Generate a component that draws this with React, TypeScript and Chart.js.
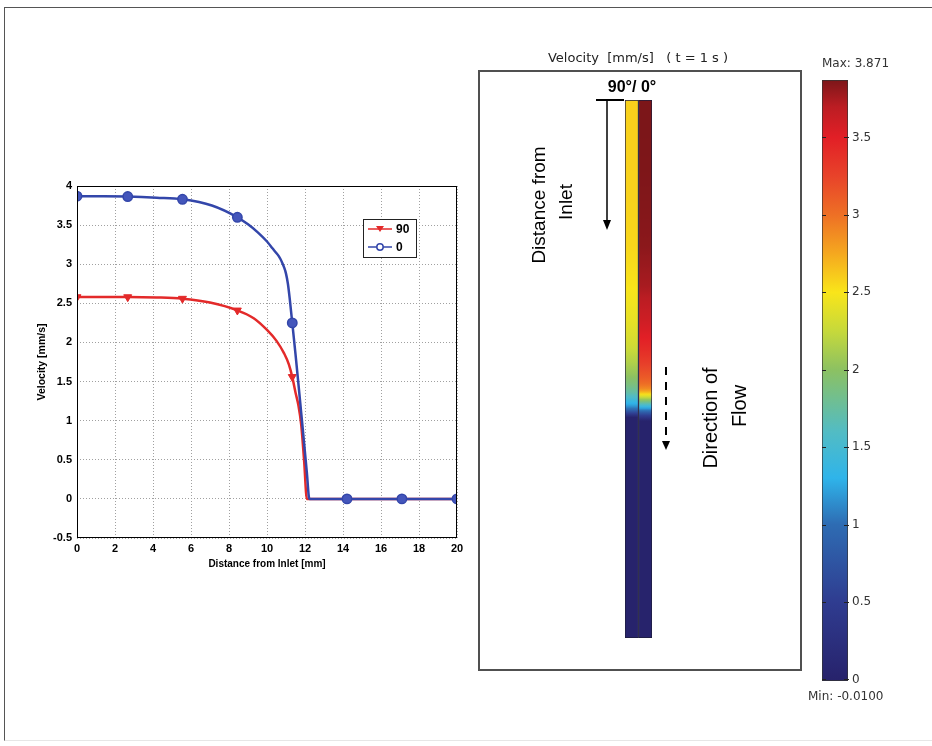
import React, { useEffect, useRef } from 'react';
import { Chart, registerables } from 'chart.js';

Chart.register(...registerables);

// ---------------- data ----------------
const X_MIN = 0;
const X_MAX = 20;
const X_STEP = 2;
const Y_MIN = -0.5;
const Y_MAX = 4;
const Y_STEP = 0.5;

const LABEL_90 = '90';
const LABEL_0 = '0';

const DIST_90 = [0, 1.4, 2.67, 4.2, 5.55, 7.0, 8.44, 9.3, 10.0, 10.5, 10.9, 11.15, 11.33, 11.5, 11.65, 11.8, 11.95, 12.1, 14.21, 17.1, 20];
const VEL_90 = [2.58, 2.58, 2.58, 2.575, 2.56, 2.51, 2.41, 2.31, 2.16, 2.02, 1.86, 1.72, 1.56, 1.36, 1.2, 0.95, 0.5, 0, 0, 0, 0];

const DIST_0 = [0, 1.4, 2.67, 4.2, 5.55, 7.1, 8.44, 9.0, 9.5, 10.0, 10.3, 10.5, 10.6, 10.7, 10.8, 10.9, 11.0, 11.1, 11.2, 11.33, 11.5, 11.65, 11.8, 11.95, 12.1, 12.23, 14.21, 17.1, 20];
const VEL_0 = [3.87, 3.87, 3.865, 3.85, 3.83, 3.75, 3.6, 3.51, 3.41, 3.29, 3.2, 3.14, 3.11, 3.07, 3.02, 2.96, 2.88, 2.75, 2.55, 2.25, 1.85, 1.48, 1.1, 0.72, 0.33, 0, 0, 0, 0];

const MARKER_DIST = [0, 2.67, 5.55, 8.44, 11.33, 14.21, 17.1, 20];

const STRIP_CATEGORIES = ['90', '0'];
const STRIP_LENGTH_MM = 20.5;

const COLORBAR_MIN = -0.01;
const COLORBAR_MAX = 3.871;
const COLORBAR_TICKS = [0, 0.5, 1, 1.5, 2, 2.5, 3, 3.5];
const CMAP_V = [-0.01, 0.5, 1.0, 1.3, 1.6, 2.0, 2.25, 2.5, 2.75, 3.0, 3.25, 3.5, 3.7, 3.871];
const CMAP_C = ['#27226b', '#2f3c90', '#2e6cb3', '#2fb4ea', '#52bcc4', '#8cc162', '#c6d93b', '#f9e51a', '#f5a81f', '#ee7025', '#e8432a', '#e21f26', '#bb1d23', '#7c1619'];

const RED = '#e32a2a';
const BLUE = '#3346aa';

// ---------------- helpers ----------------
function hexToRgb(h: string) {
  const n = parseInt(h.slice(1), 16);
  return [(n >> 16) & 255, (n >> 8) & 255, n & 255];
}
function cmap(v: number) {
  if (v <= CMAP_V[0]) return CMAP_C[0];
  for (let i = 1; i < CMAP_V.length; i++) {
    if (v <= CMAP_V[i]) {
      const t = (v - CMAP_V[i - 1]) / (CMAP_V[i] - CMAP_V[i - 1]);
      const a = hexToRgb(CMAP_C[i - 1]);
      const b = hexToRgb(CMAP_C[i]);
      const c = a.map((x, k) => Math.round(x + (b[k] - x) * t));
      return `rgb(${c[0]},${c[1]},${c[2]})`;
    }
  }
  return CMAP_C[CMAP_C.length - 1];
}
function interp(xs: number[], ys: number[], x: number) {
  if (x <= xs[0]) return ys[0];
  for (let i = 1; i < xs.length; i++) {
    if (x <= xs[i]) {
      const t = (x - xs[i - 1]) / (xs[i] - xs[i - 1]);
      return ys[i - 1] + (ys[i] - ys[i - 1]) * t;
    }
  }
  return ys[ys.length - 1];
}

// ---------------- left line chart ----------------
const tickFont = { family: '"Liberation Sans", Arial, sans-serif', weight: 'bold' as const, size: 11 };

const leftDecor = {
  id: 'leftDecor',
  afterDraw(chart: any) {
    const { ctx, chartArea: a } = chart;
    ctx.save();
    ctx.strokeStyle = '#000';
    ctx.lineWidth = 1;
    ctx.strokeRect(a.left + 0.5, a.top + 0.5, a.right - a.left - 1, a.bottom - a.top - 1);
    // legend box
    const bx = a.left + 286;
    const by = a.top + 33;
    const bw = 53;
    const bh = 38;
    ctx.fillStyle = '#fff';
    ctx.fillRect(bx, by, bw, bh);
    ctx.strokeStyle = '#222';
    ctx.lineWidth = 1;
    ctx.strokeRect(bx + 0.5, by + 0.5, bw, bh);
    const items = chart.data.datasets;
    items.forEach((ds: any, i: number) => {
      const yy = by + 10 + i * 18;
      ctx.strokeStyle = ds.borderColor;
      ctx.lineWidth = 1.5;
      ctx.beginPath();
      ctx.moveTo(bx + 5, yy);
      ctx.lineTo(bx + 29, yy);
      ctx.stroke();
      if (ds.pointStyle === 'triangle') {
        ctx.fillStyle = ds.borderColor;
        ctx.beginPath();
        ctx.moveTo(bx + 13, yy - 3);
        ctx.lineTo(bx + 21, yy - 3);
        ctx.lineTo(bx + 17, yy + 3);
        ctx.closePath();
        ctx.fill();
      } else {
        ctx.fillStyle = '#fff';
        ctx.beginPath();
        ctx.arc(bx + 17, yy, 3.2, 0, Math.PI * 2);
        ctx.fill();
        ctx.stroke();
      }
      ctx.fillStyle = '#000';
      ctx.font = 'bold 12px "Liberation Sans", Arial, sans-serif';
      ctx.textAlign = 'left';
      ctx.textBaseline = 'middle';
      ctx.fillText(ds.label, bx + 33, yy + 1);
    });
    ctx.restore();
  },
};

function leftConfig(): any {
  const isMarker = (c: any) => c.raw && MARKER_DIST.includes(c.raw.x);
  return {
    type: 'line',
    data: {
      datasets: [
        {
          label: LABEL_90,
          data: DIST_90.map((x, i) => ({ x, y: VEL_90[i] })),
          borderColor: RED,
          backgroundColor: RED,
          borderWidth: 2.5,
          pointStyle: 'triangle',
          pointRotation: 180,
          pointRadius: (c: any) => (isMarker(c) ? 4.6 : 0),
          pointBackgroundColor: RED,
          pointBorderColor: RED,
          pointBorderWidth: 1,
          cubicInterpolationMode: 'monotone',
          fill: false,
          order: 1,
        },
        {
          label: LABEL_0,
          data: DIST_0.map((x, i) => ({ x, y: VEL_0[i] })),
          borderColor: BLUE,
          backgroundColor: BLUE,
          borderWidth: 2.5,
          pointStyle: 'circle',
          pointRadius: (c: any) => (isMarker(c) ? 4.7 : 0),
          pointBackgroundColor: '#4456bb',
          pointBorderColor: BLUE,
          pointBorderWidth: 1.5,
          cubicInterpolationMode: 'monotone',
          fill: false,
          order: 0,
        },
      ],
    },
    options: {
      responsive: false,
      animation: false,
      devicePixelRatio: 1,
      layout: { padding: { top: 16, right: 13, left: 0, bottom: 0 } },
      plugins: { legend: { display: false }, tooltip: { enabled: false } },
      scales: {
        x: {
          type: 'linear',
          min: X_MIN,
          max: X_MAX,
          ticks: { stepSize: X_STEP, font: tickFont, color: '#000', padding: 4, maxRotation: 0, callback: (v: number) => String(v) },
          grid: { color: '#a0a0a0', drawTicks: false, lineWidth: 1 },
          border: { display: false, dash: [1, 2] },
          title: {
            display: true,
            text: 'Distance from Inlet [mm]',
            font: { family: '"Liberation Sans", Arial, sans-serif', weight: 'bold', size: 10 },
            color: '#000',
            padding: { top: 2, bottom: 0 },
          },
          afterFit: (s: any) => {
            s.height = 32;
          },
        },
        y: {
          type: 'linear',
          min: Y_MIN,
          max: Y_MAX,
          ticks: { stepSize: Y_STEP, font: tickFont, color: '#000', padding: 5, callback: (v: number) => String(Math.round(v * 10) / 10) },
          grid: { color: '#a0a0a0', drawTicks: false, lineWidth: 1 },
          border: { display: false, dash: [1, 2] },
          title: {
            display: true,
            text: 'Velocity [mm/s]',
            font: { family: '"Liberation Sans", Arial, sans-serif', weight: 'bold', size: 10.5 },
            color: '#000',
            padding: { top: 6, bottom: 0 },
          },
          afterFit: (s: any) => {
            s.width = 47;
          },
        },
      },
    },
    plugins: [leftDecor],
  };
}

// ---------------- strips chart ----------------
const STRIP_OX = 478;
const STRIP_OY = 40;

const stripDecor = {
  id: 'stripDecor',
  afterDraw(chart: any) {
    const ctx = chart.ctx;
    const px = (x: number) => x - STRIP_OX;
    const py = (y: number) => y - STRIP_OY;
    ctx.save();
    ctx.fillStyle = '#222';
    ctx.textAlign = 'center';
    ctx.textBaseline = 'middle';
    ctx.font = '13px "DejaVu Sans", sans-serif';
    ctx.fillText('Velocity  [mm/s]   ( t = 1 s )', px(638), py(59));

    ctx.fillStyle = '#000';
    ctx.font = 'bold 16px "Liberation Sans", Arial, sans-serif';
    ctx.fillText('90°/ 0°', px(632), py(88));

    // T-bar arrow
    ctx.strokeStyle = '#000';
    ctx.lineWidth = 2;
    ctx.beginPath();
    ctx.moveTo(px(596), py(100));
    ctx.lineTo(px(624), py(100));
    ctx.stroke();
    ctx.lineWidth = 1.5;
    ctx.beginPath();
    ctx.moveTo(px(607), py(100));
    ctx.lineTo(px(607), py(222));
    ctx.stroke();
    ctx.fillStyle = '#000';
    ctx.beginPath();
    ctx.moveTo(px(603), py(220));
    ctx.lineTo(px(611), py(220));
    ctx.lineTo(px(607), py(230));
    ctx.closePath();
    ctx.fill();

    // dashed arrow
    ctx.lineWidth = 2;
    ctx.setLineDash([8, 7]);
    ctx.beginPath();
    ctx.moveTo(px(666), py(367));
    ctx.lineTo(px(666), py(442));
    ctx.stroke();
    ctx.setLineDash([]);
    ctx.beginPath();
    ctx.moveTo(px(662), py(441));
    ctx.lineTo(px(670), py(441));
    ctx.lineTo(px(666), py(450));
    ctx.closePath();
    ctx.fill();

    // rotated labels
    const rot = (text: string, x: number, y: number, size: number) => {
      ctx.save();
      ctx.translate(px(x), py(y));
      ctx.rotate(-Math.PI / 2);
      ctx.font = `${size}px "Liberation Sans", Arial, sans-serif`;
      ctx.textAlign = 'center';
      ctx.textBaseline = 'middle';
      ctx.fillStyle = '#000';
      ctx.fillText(text, 0, 0);
      ctx.restore();
    };
    rot('Distance from', 540, 205, 19);
    rot('Inlet', 567, 202, 19);
    rot('Direction of', 711, 418, 20);
    rot('Flow', 740, 406, 20);
    ctx.restore();
  },
};

function stripGradient(c: any) {
  const chart = c.chart;
  if (!chart.chartArea || !chart.scales.y) return '#27226b';
  const ys = chart.scales.y;
  const y0 = ys.getPixelForValue(0);
  const y1 = ys.getPixelForValue(STRIP_LENGTH_MM);
  const g = chart.ctx.createLinearGradient(0, y0, 0, y1);
  const xs = c.dataIndex === 0 ? DIST_90 : DIST_0;
  const vs = c.dataIndex === 0 ? VEL_90 : VEL_0;
  const N = 300;
  for (let i = 0; i <= N; i++) {
    const d = (STRIP_LENGTH_MM * i) / N;
    g.addColorStop(i / N, cmap(interp(xs, vs, d)));
  }
  return g;
}

function stripConfig(): any {
  return {
    type: 'bar',
    data: {
      labels: STRIP_CATEGORIES,
      datasets: [
        {
          data: STRIP_CATEGORIES.map(() => [0, STRIP_LENGTH_MM]),
          backgroundColor: stripGradient,
          borderColor: '#1c1c3a',
          borderWidth: 1,
          borderSkipped: false,
          categoryPercentage: 1,
          barPercentage: 1,
        },
      ],
    },
    options: {
      responsive: false,
      animation: false,
      devicePixelRatio: 1,
      layout: { padding: { left: 147, right: 152, top: 60, bottom: 34 } },
      plugins: { legend: { display: false }, tooltip: { enabled: false } },
      scales: {
        x: { type: 'category', display: false },
        y: { type: 'linear', display: false, reverse: true, min: 0, max: STRIP_LENGTH_MM },
      },
    },
    plugins: [stripDecor],
  };
}

// ---------------- colorbar ----------------
const colorbarDecor = {
  id: 'colorbarDecor',
  afterDraw(chart: any) {
    const { ctx, chartArea: a } = chart;
    const ys = chart.scales.y;
    ctx.save();
    ctx.strokeStyle = '#222';
    ctx.lineWidth = 1;
    COLORBAR_TICKS.forEach((t) => {
      const y = Math.round(ys.getPixelForValue(t)) + 0.5;
      ctx.beginPath();
      ctx.moveTo(a.left, y);
      ctx.lineTo(a.left + 4, y);
      ctx.moveTo(a.right - 4, y);
      ctx.lineTo(a.right + 1, y);
      ctx.stroke();
    });
    ctx.fillStyle = '#333';
    ctx.font = '12px "DejaVu Sans", sans-serif';
    ctx.textBaseline = 'middle';
    ctx.textAlign = 'left';
    ctx.fillText('Max: ' + COLORBAR_MAX.toFixed(3), a.left, a.top - 16);
    ctx.fillText('Min: ' + COLORBAR_MIN.toFixed(4), a.left - 14, a.bottom + 16);
    ctx.restore();
  },
};

function colorbarGradient(c: any) {
  const chart = c.chart;
  if (!chart.chartArea || !chart.scales.y) return '#888';
  const ys = chart.scales.y;
  const yMin = ys.getPixelForValue(COLORBAR_MIN);
  const yMax = ys.getPixelForValue(COLORBAR_MAX);
  const g = chart.ctx.createLinearGradient(0, yMin, 0, yMax);
  CMAP_V.forEach((v, i) => {
    g.addColorStop((v - COLORBAR_MIN) / (COLORBAR_MAX - COLORBAR_MIN), CMAP_C[i]);
  });
  return g;
}

function colorbarConfig(): any {
  return {
    type: 'bar',
    data: {
      labels: ['Velocity'],
      datasets: [
        {
          data: [[COLORBAR_MIN, COLORBAR_MAX]],
          backgroundColor: colorbarGradient,
          borderColor: '#333',
          borderWidth: 1,
          borderSkipped: false,
          categoryPercentage: 1,
          barPercentage: 1,
        },
      ],
    },
    options: {
      responsive: false,
      animation: false,
      devicePixelRatio: 1,
      layout: { padding: { left: 22, right: 0, top: 25, bottom: 24 } },
      plugins: { legend: { display: false }, tooltip: { enabled: false } },
      scales: {
        x: { type: 'category', display: false },
        y: {
          type: 'linear',
          position: 'right',
          min: COLORBAR_MIN,
          max: COLORBAR_MAX,
          grid: { display: false, drawTicks: false },
          border: { display: false },
          ticks: {
            font: { family: '"DejaVu Sans", sans-serif', size: 12 },
            color: '#333',
            padding: 4,
            callback: (v: number) => String(v),
          },
          afterBuildTicks: (s: any) => {
            s.ticks = COLORBAR_TICKS.map((v) => ({ value: v }));
          },
          afterFit: (s: any) => {
            s.width = 84;
          },
        },
      },
    },
    plugins: [colorbarDecor],
  };
}

// ---------------- component ----------------
export default function App() {
  const leftRef = useRef<HTMLCanvasElement>(null);
  const stripRef = useRef<HTMLCanvasElement>(null);
  const barRef = useRef<HTMLCanvasElement>(null);

  useEffect(() => {
    const charts: Chart[] = [];
    if (leftRef.current) charts.push(new Chart(leftRef.current, leftConfig()));
    if (stripRef.current) charts.push(new Chart(stripRef.current, stripConfig()));
    if (barRef.current) charts.push(new Chart(barRef.current, colorbarConfig()));
    return () => charts.forEach((c) => c.destroy());
  }, []);

  const abs = (left: number, top: number): React.CSSProperties => ({ position: 'absolute', left, top, display: 'block' });

  return (
    <div style={{ position: 'absolute', left: 0, top: 0, width: 932, height: 746, background: '#fff', overflow: 'hidden' }}>
      <div
        style={{
          position: 'absolute',
          left: 4,
          top: 7,
          width: 960,
          height: 732,
          borderLeft: '1.5px solid #555',
          borderTop: '1.5px solid #555',
          borderBottom: '1px solid #e6e6e6',
        }}
      />
      <canvas ref={leftRef} width={440} height={400} style={abs(30, 170)} />
      <div
        style={{
          position: 'absolute',
          left: 478,
          top: 70,
          width: 324,
          height: 601,
          boxSizing: 'border-box',
          border: '2px solid #505050',
        }}
      />
      <canvas ref={stripRef} width={326} height={632} style={abs(478, 40)} />
      <canvas ref={barRef} width={132} height={650} style={abs(800, 55)} />
    </div>
  );
}
